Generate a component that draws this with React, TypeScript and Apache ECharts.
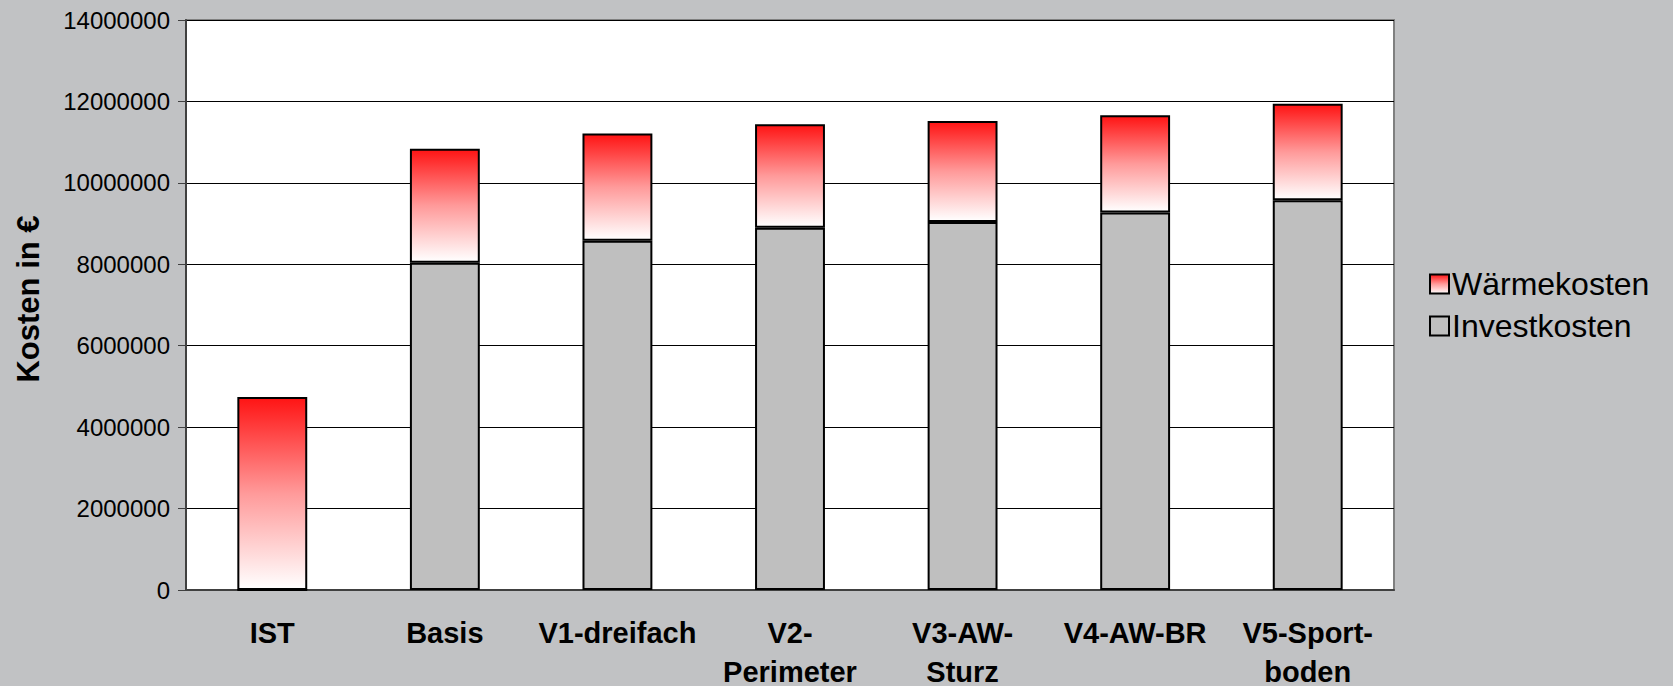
import React, { useEffect, useRef } from "react";
import * as echarts from "echarts";

const categories = ["IST", "Basis", "V1-dreifach", "V2-\nPerimeter", "V3-AW-\nSturz", "V4-AW-BR", "V5-Sport-\nboden"];
const investkosten = [0, 8040000, 8580000, 8900000, 9040000, 9270000, 9570000];
const waermekosten = [4740000, 2800000, 2630000, 2540000, 2480000, 2390000, 2370000];
const yTicks = { min: 0, max: 14000000, interval: 2000000 };

const FONT = "'Liberation Sans', Arial, sans-serif";

export default function App() {
  const ref = useRef<HTMLDivElement>(null);
  useEffect(() => {
    document.body.style.margin = "0";
    const chart = echarts.init(ref.current!, undefined, { renderer: "svg" });
    const redGrad = new echarts.graphic.LinearGradient(0, 0, 0, 1, [
      { offset: 0, color: "#ff1414" },
      { offset: 0.5, color: "#ff9a9a" },
      { offset: 1, color: "#ffffff" },
    ]);
    chart.setOption({
      animation: false,
      backgroundColor: "#c1c2c4",
      textStyle: { fontFamily: FONT, color: "#000" },
      grid: {
        left: 186,
        top: 20,
        right: 279,
        bottom: 96,
        containLabel: false,
        outerBoundsMode: "none",
        show: true,
        backgroundColor: "#ffffff",
        borderColor: "#808080",
        borderWidth: 2,
      },
      legend: {
        orient: "vertical",
        left: 1424,
        top: 263,
        icon: "rect",
        itemWidth: 19,
        itemHeight: 19,
        itemGap: 10,
        data: ["Wärmekosten", "Investkosten"],
        textStyle: { fontFamily: FONT, fontSize: 32, color: "#000", padding: [0, 0, 0, -2] },
        itemStyle: { borderColor: "#000", borderWidth: 2 },
      },
      graphic: [
        {
          type: "text",
          x: 28,
          y: 299,
          rotation: Math.PI / 2,
          style: {
            text: "Kosten in €",
            fontFamily: FONT,
            fontSize: 31,
            fontWeight: "bold",
            fill: "#000",
            textAlign: "center",
            textVerticalAlign: "middle",
          },
        },
      ],
      xAxis: {
        type: "category",
        data: categories,
        axisLine: { lineStyle: { color: "#404040", width: 2 } },
        axisTick: { show: false },
        axisLabel: {
          fontFamily: FONT,
          fontSize: 29,
          fontWeight: "bold",
          color: "#000",
          margin: 23,
          lineHeight: 39,
          interval: 0,
        },
      },
      yAxis: {
        type: "value",
        min: yTicks.min,
        max: yTicks.max,
        interval: yTicks.interval,
        axisLine: { show: true, lineStyle: { color: "#404040", width: 2 } },
        axisTick: { show: true, length: 8, lineStyle: { color: "#404040" } },
        splitLine: { lineStyle: { color: "#000", width: 1 } },
        axisLabel: {
          fontFamily: FONT,
          fontSize: 24,
          color: "#000",
          margin: 16,
          formatter: (v: number) => String(v),
        },
      },
      series: [
        {
          name: "Investkosten",
          type: "bar",
          stack: "total",
          barWidth: "40.5%",
          data: investkosten,
          itemStyle: { color: "#bfbfbf", borderColor: "#000", borderWidth: 2 },
        },
        {
          name: "Wärmekosten",
          type: "bar",
          stack: "total",
          barWidth: "40.5%",
          data: waermekosten,
          itemStyle: { color: redGrad, borderColor: "#000", borderWidth: 2 },
        },
      ],
    });
    return () => chart.dispose();
  }, []);
  return <div ref={ref} style={{ position: "fixed", left: 0, top: 0, width: 1673, height: 686 }} />;
}
